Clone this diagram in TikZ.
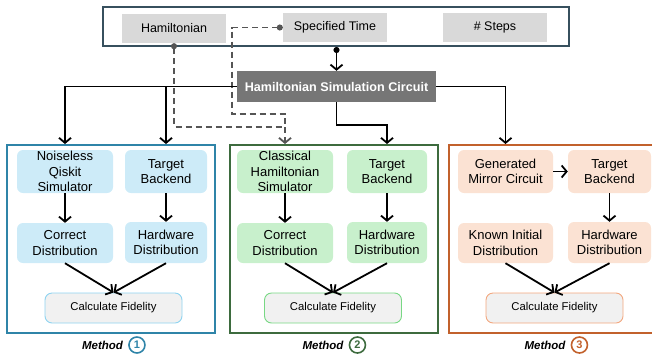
\documentclass[tikz,border=0pt]{standalone}
\usepackage{fontspec}
\setmainfont{Liberation Sans}
\usetikzlibrary{positioning,arrows.meta,calc}

\definecolor{topframe}{HTML}{37505E}
\definecolor{inputgray}{HTML}{D9D9D9}
\definecolor{hscgray}{HTML}{767676}
\definecolor{mblue}{HTML}{2F84A8}
\definecolor{mbluefill}{HTML}{CDEBF8}
\definecolor{mblueline}{HTML}{8ED3F0}
\definecolor{mgreen}{HTML}{3D6B3E}
\definecolor{mgreenfill}{HTML}{C8F0CC}
\definecolor{mgreenline}{HTML}{78D884}
\definecolor{morange}{HTML}{C2612C}
\definecolor{morangefill}{HTML}{FBE2D3}
\definecolor{morangeline}{HTML}{F3A77E}
\definecolor{fidfill}{HTML}{F1F1F1}
\definecolor{dashgray}{HTML}{555555}

\tikzset{
    inputbox/.style={fill=inputgray, minimum width=104pt, minimum height=29pt, font=\fontsize{12.5}{15}\selectfont},
    stepbox/.style={rounded corners=6pt, minimum height=43pt, align=center, inner sep=1pt, font=\fontsize{13}{15.5}\selectfont},
    fidbox/.style={draw, fill=fidfill, rounded corners=7pt, minimum width=137pt, minimum height=30pt, line width=0.9pt, font=\fontsize{11.3}{13}\selectfont},
    methodframe/.style={draw, line width=2pt, minimum width=208pt, minimum height=188pt},
    tip/.style={-{Straight Barb[length=5pt,width=12pt]}},
    conn/.style={line width=1.8pt, tip},
    dashconn/.style={dashgray, line width=1.8pt, dash pattern=on 6pt off 4pt},
    methodlbl/.style={inner sep=0pt, font=\fontsize{11.5}{13}\selectfont\bfseries\itshape},
    numcirc/.style={circle, draw, line width=1.6pt, inner sep=0pt, minimum size=16pt, font=\fontsize{11}{12}\selectfont\bfseries}
}

\begin{document}
\begin{tikzpicture}[x=1pt, y=-1pt]
    \clip (0,0) rectangle (652,354);

    % Inputs on top
    \node[draw=topframe, line width=2pt, minimum width=466pt, minimum height=39pt] (inputs) at (336,26.5) {};
    \node[inputbox] (ham) at (174,28.5) {Hamiltonian};
    \node[inputbox] (st) at (335,27.5) {Specified Time};
    \node[inputbox] (nsteps) at (495,27.5) {\# Steps};

    % Circuit block
    \node[fill=hscgray, text=white, minimum width=199pt, minimum height=31pt, font=\fontsize{12.6}{15}\selectfont\bfseries] (hsc) at (336.5,86.5) {Hamiltonian Simulation Circuit};

    % Frames of the three methods
    \node[methodframe, draw=mblue] (m1) at (111,239) {};
    \node[methodframe, draw=mgreen] (m2) at (333.5,239) {};
    \node[methodframe, draw=morange] (m3) at (552.5,239) {};

    % Method 1
    \node[stepbox, fill=mbluefill, minimum width=96pt] (nqs) at (65,171.5) {Noiseless\\Qiskit\\Simulator};
    \node[stepbox, fill=mbluefill, minimum width=82pt] (tb1) at (166,171.5) {Target\\Backend};
    \node[stepbox, fill=mbluefill, minimum width=96pt, minimum height=40pt] (cd1) at (65,243) {Correct\\Distribution};
    \node[stepbox, fill=mbluefill, minimum width=82pt, minimum height=41pt] (hd1) at (166,242.5) {Hardware\\Distribution};
    \node[fidbox, draw=mblueline] (cf1) at (113.5,308) {Calculate Fidelity};

    % Method 2
    \node[stepbox, fill=mgreenfill, minimum width=96pt] (chs) at (285,171.5) {Classical\\Hamiltonian\\Simulator};
    \node[stepbox, fill=mgreenfill, minimum width=80pt] (tb2) at (387,171.5) {Target\\Backend};
    \node[stepbox, fill=mgreenfill, minimum width=96pt, minimum height=40pt] (cd2) at (285,243) {Correct\\Distribution};
    \node[stepbox, fill=mgreenfill, minimum width=80pt, minimum height=41pt] (hd2) at (387,242.5) {Hardware\\Distribution};
    \node[fidbox, draw=mgreenline] (cf2) at (333,308) {Calculate Fidelity};

    % Method 3
    \node[stepbox, fill=morangefill, minimum width=95pt] (gmc) at (505.5,171.5) {Generated\\Mirror Circuit};
    \node[stepbox, fill=morangefill, minimum width=83pt] (tb3) at (609.5,171.5) {Target\\Backend};
    \node[stepbox, fill=morangefill, minimum width=95pt, minimum height=40pt] (kid) at (505.5,243) {Known Initial\\Distribution};
    \node[stepbox, fill=morangefill, minimum width=83pt, minimum height=41pt] (hd3) at (609.5,242.5) {Hardware\\Distribution};
    \node[fidbox, draw=morangeline] (cf3) at (554.5,308) {Calculate Fidelity};

    % Labels under the frames
    \node[methodlbl] (lbl1) at (102.5,345) {Method};
    \node[numcirc, draw=mblue, text=mblue, right=5pt of lbl1] (num1) {1};
    \node[methodlbl] (lbl2) at (323,345) {Method};
    \node[numcirc, draw=mgreen, text=mgreen, right=5pt of lbl2] (num2) {2};
    \node[methodlbl] (lbl3) at (545,345) {Method};
    \node[numcirc, draw=morange, text=morange, right=5pt of lbl3] (num3) {3};

    % Dashed inputs to the classical simulator
    \coordinate (dmerge) at ($(chs.north)+(0,-23)$);
    \draw[dashconn, {Circle[length=6pt]}-{Straight Barb[length=5pt,width=12pt]}] (ham.south) |- (dmerge) -- (chs.north |- m2.north);
    \draw[dashconn, {Circle[length=6pt]}-] (st.west) -- ++(-51,0) |- ($(dmerge)+(0,-13)$) -- (dmerge);

    % Circuit to the methods
    \draw[conn, {Circle[length=6pt]}-{Straight Barb[length=5pt,width=12pt]}] (hsc.north |- inputs.south) -- (hsc.north);
    \draw[conn] (hsc.west) -| (nqs.north |- m1.north);
    \draw[conn] (tb1.north |- hsc.west) -- (tb1.north |- m1.north);
    \draw[conn] (hsc.south) -- ++(0,23) -| (tb2.north |- m2.north);
    \draw[conn] (hsc.east) -| (gmc.north |- m3.north);

    % Flow inside the methods
    \draw[conn] (nqs) -- (cd1);
    \draw[conn] (tb1) -- (hd1);
    \draw[conn] (cd1.south) -- (cf1.north);
    \draw[conn] (hd1.south) -- (cf1.north);
    \draw[conn] (chs) -- (cd2);
    \draw[conn] (tb2) -- (hd2);
    \draw[conn] (cd2.south) -- (cf2.north);
    \draw[conn] (hd2.south) -- (cf2.north);
    \draw[conn] (gmc) -- (tb3);
    \draw[conn] (tb3) -- (hd3);
    \draw[conn] (kid.south) -- (cf3.north);
    \draw[conn] (hd3.south) -- (cf3.north);
\end{tikzpicture}
\end{document}
